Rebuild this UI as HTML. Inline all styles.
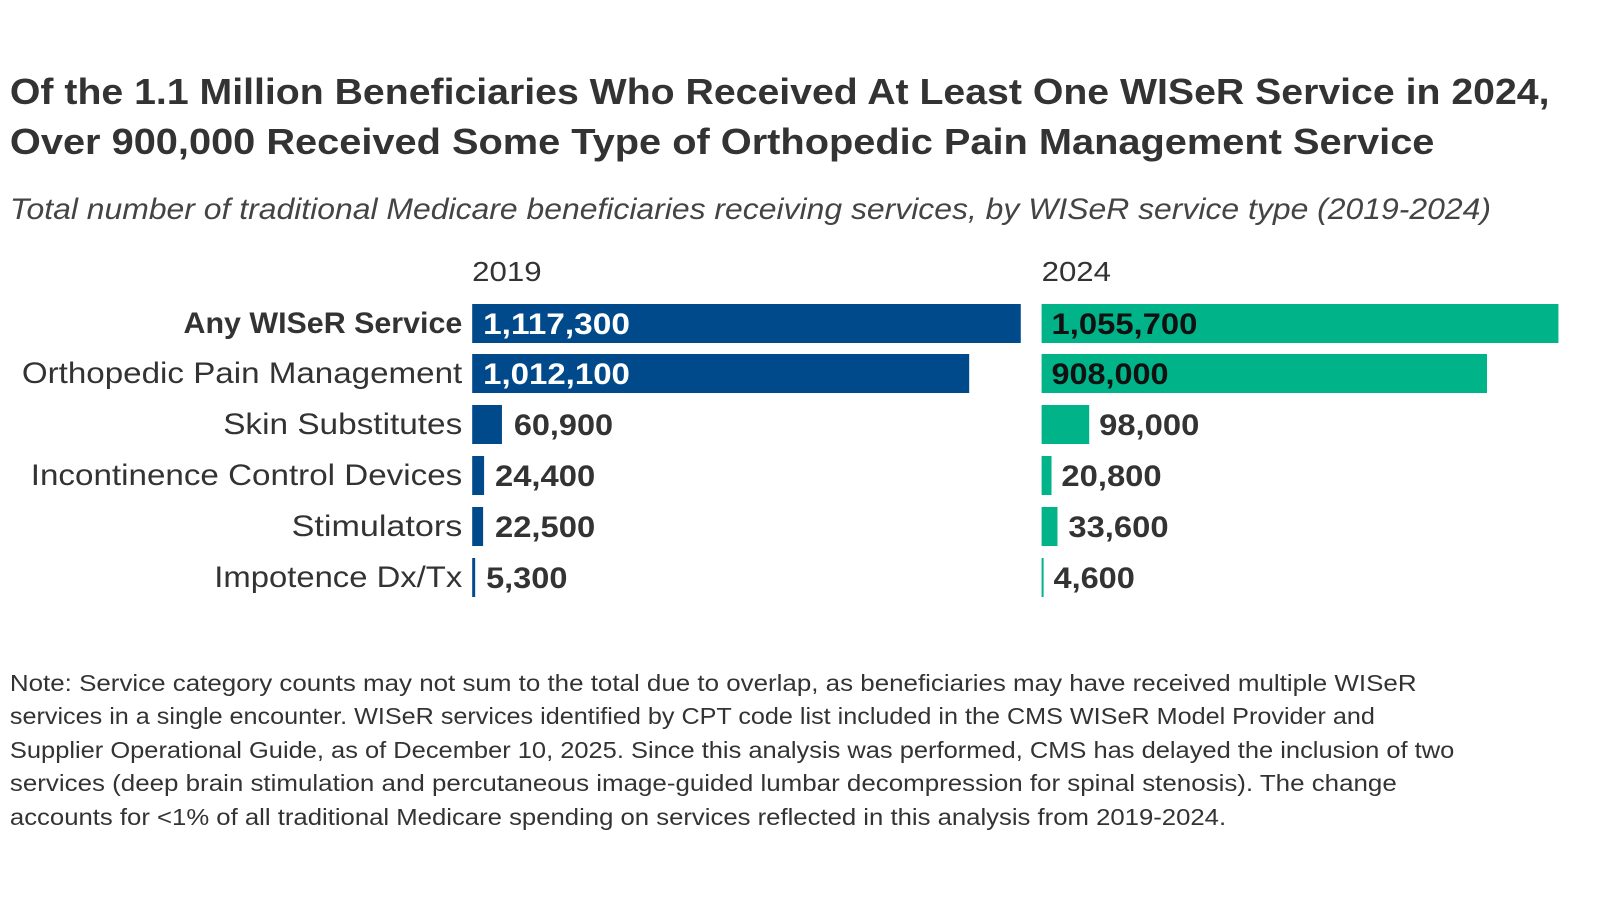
<!DOCTYPE html>
<html><head><meta charset="utf-8"><style>
html,body{margin:0;padding:0;background:#fff;}
svg{display:block;font-family:"Liberation Sans",sans-serif;}
</style></head><body>
<svg width="1600" height="920" viewBox="0 0 1600 920" xmlns="http://www.w3.org/2000/svg">
<g transform="scale(0.992,1)">
<g fill="#333" font-weight="bold" font-size="36">
<text x="10" y="104" textLength="1552" lengthAdjust="spacingAndGlyphs">Of the 1.1 Million Beneficiaries Who Received At Least One WISeR Service in 2024,</text>
<text x="10" y="154" textLength="1436" lengthAdjust="spacingAndGlyphs">Over 900,000 Received Some Type of Orthopedic Pain Management Service</text>
</g>
<text x="10" y="219" fill="#444" font-style="italic" font-size="30" textLength="1493" lengthAdjust="spacingAndGlyphs">Total number of traditional Medicare beneficiaries receiving services, by WISeR service type (2019-2024)</text>
<g fill="#333" font-size="28">
<text x="476" y="281" textLength="70" lengthAdjust="spacingAndGlyphs">2019</text>
<text x="1050" y="281" textLength="70" lengthAdjust="spacingAndGlyphs">2024</text>
</g>
<g fill="#333" font-size="30" text-anchor="end">
<text x="466" y="333" font-weight="bold" textLength="281" lengthAdjust="spacingAndGlyphs">Any WISeR Service</text>
<text x="466" y="383" textLength="444" lengthAdjust="spacingAndGlyphs">Orthopedic Pain Management</text>
<text x="466" y="434" textLength="241" lengthAdjust="spacingAndGlyphs">Skin Substitutes</text>
<text x="466" y="485" textLength="435" lengthAdjust="spacingAndGlyphs">Incontinence Control Devices</text>
<text x="466" y="536" textLength="172" lengthAdjust="spacingAndGlyphs">Stimulators</text>
<text x="466" y="587" textLength="250" lengthAdjust="spacingAndGlyphs">Impotence Dx/Tx</text>
</g>
<g fill="#004a8c">
<rect x="476" y="304" width="553" height="39"/>
<rect x="476" y="354" width="501" height="39"/>
<rect x="476" y="405" width="30" height="39"/>
<rect x="476" y="456" width="12" height="39"/>
<rect x="476" y="507" width="11" height="39"/>
<rect x="476" y="558" width="3" height="39"/>
</g>
<g fill="#00b388">
<rect x="1050" y="304" width="521" height="39"/>
<rect x="1050" y="354" width="449" height="39"/>
<rect x="1050" y="405" width="48" height="39"/>
<rect x="1050" y="456" width="10" height="39"/>
<rect x="1050" y="507" width="16" height="39"/>
<rect x="1050" y="558" width="2" height="39"/>
</g>
<g font-size="30" font-weight="bold">
<text x="487" y="334" fill="#fff" textLength="148" lengthAdjust="spacingAndGlyphs">1,117,300</text>
<text x="487" y="384" fill="#fff" textLength="148" lengthAdjust="spacingAndGlyphs">1,012,100</text>
<text x="518" y="435" fill="#333" textLength="100" lengthAdjust="spacingAndGlyphs">60,900</text>
<text x="499" y="486" fill="#333" textLength="101" lengthAdjust="spacingAndGlyphs">24,400</text>
<text x="499" y="537" fill="#333" textLength="101" lengthAdjust="spacingAndGlyphs">22,500</text>
<text x="490" y="588" fill="#333" textLength="82" lengthAdjust="spacingAndGlyphs">5,300</text>
<text x="1060" y="334" fill="#111" textLength="147" lengthAdjust="spacingAndGlyphs">1,055,700</text>
<text x="1060" y="384" fill="#111" textLength="118" lengthAdjust="spacingAndGlyphs">908,000</text>
<text x="1108" y="435" fill="#333" textLength="101" lengthAdjust="spacingAndGlyphs">98,000</text>
<text x="1070" y="486" fill="#333" textLength="101" lengthAdjust="spacingAndGlyphs">20,800</text>
<text x="1077" y="537" fill="#333" textLength="101" lengthAdjust="spacingAndGlyphs">33,600</text>
<text x="1062" y="588" fill="#333" textLength="82" lengthAdjust="spacingAndGlyphs">4,600</text>
</g>
<g fill="#333" font-size="23">
<text x="10" y="691" textLength="1418" lengthAdjust="spacingAndGlyphs">Note: Service category counts may not sum to the total due to overlap, as beneficiaries may have received multiple WISeR</text>
<text x="10" y="724" textLength="1376" lengthAdjust="spacingAndGlyphs">services in a single encounter. WISeR services identified by CPT code list included in the CMS WISeR Model Provider and</text>
<text x="10" y="758" textLength="1456" lengthAdjust="spacingAndGlyphs">Supplier Operational Guide, as of December 10, 2025. Since this analysis was performed, CMS has delayed the inclusion of two</text>
<text x="10" y="791" textLength="1398" lengthAdjust="spacingAndGlyphs">services (deep brain stimulation and percutaneous image-guided lumbar decompression for spinal stenosis). The change</text>
<text x="10" y="825" textLength="1226" lengthAdjust="spacingAndGlyphs">accounts for &lt;1% of all traditional Medicare spending on services reflected in this analysis from 2019-2024.</text>
</g>
</g>
</svg>
</body></html>
